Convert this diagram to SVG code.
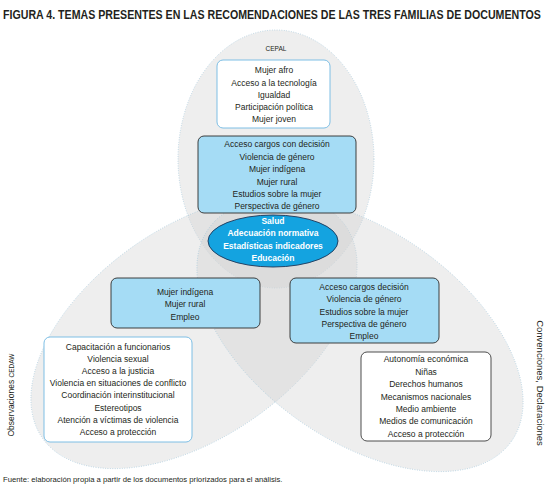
<svg xmlns="http://www.w3.org/2000/svg" width="549" height="491" viewBox="0 0 549 491">
<style>
text{font-family:"Liberation Sans",Arial,sans-serif;fill:#231f20;text-anchor:middle}
.t{font-size:8.5px}
.venn{fill:#d2d2d2;fill-opacity:0.38;stroke:#a3c6da;stroke-width:0.8;stroke-dasharray:0.8 1.6}
.lb{fill:#a5dcf5;stroke:#2b2b2b;stroke-width:0.9}
.wb{fill:#ffffff;stroke:#6fb8e2;stroke-width:0.9}
.wd{fill:#ffffff;stroke:#3a3a3a;stroke-width:0.9}
.w{fill:#ffffff;font-weight:bold;font-size:8.5px}
</style>
<rect width="549" height="491" fill="#ffffff"/>
<text transform="translate(3 19) scale(0.81 1)" x="0" y="0" style="text-anchor:start;font-size:12.5px;font-weight:bold" textLength="664" lengthAdjust="spacingAndGlyphs">FIGURA 4. TEMAS PRESENTES EN LAS RECOMENDACIONES DE LAS TRES FAMILIAS DE DOCUMENTOS</text>
<g id="sets">
<ellipse id="cepal-set" class="venn" cx="276" cy="159" rx="98" ry="129"/>
<ellipse id="cedaw-set" class="venn" cx="194" cy="332" rx="185" ry="105" transform="rotate(-35 194 332)"/>
<ellipse id="conv-set" class="venn" cx="360" cy="335" rx="185" ry="105" transform="rotate(35 360 335)"/>
</g>
<text x="276" y="51" style="font-size:6.5px">CEPAL</text>
<text transform="translate(14 395) rotate(-90)" style="font-size:8.5px">Observaciones <tspan style="font-size:6.5px">CEDAW</tspan></text>
<text transform="translate(537 383) rotate(90)" style="font-size:9.5px">Convenciones, Declaraciones</text>
<g id="cepal-only">
<rect class="wb" x="217" y="60" width="113" height="68" rx="6"/>
<text class="t" x="274" y="73">Mujer afro</text>
<text class="t" x="274" y="86">Acceso a la tecnología</text>
<text class="t" x="274" y="98">Igualdad</text>
<text class="t" x="274" y="110">Participación política</text>
<text class="t" x="274" y="122">Mujer joven</text>
</g>
<g id="cepal-conv">
<rect class="lb" x="198" y="136" width="158" height="77" rx="6"/>
<text class="t" x="277" y="147">Acceso cargos con decisión</text>
<text class="t" x="277" y="160">Violencia de género</text>
<text class="t" x="277" y="172">Mujer indígena</text>
<text class="t" x="277" y="185">Mujer rural</text>
<text class="t" x="277" y="197">Estudios sobre la mujer</text>
<text class="t" x="277" y="209">Perspectiva de género</text>
</g>
<g id="all-three">
<ellipse cx="273" cy="241" rx="65" ry="26" fill="#14a3e0" stroke="#1d3557" stroke-width="0.9"/>
<text class="w" x="273" y="224">Salud</text>
<text class="w" x="273" y="236">Adecuación normativa</text>
<text class="w" x="273" y="249">Estadísticas indicadores</text>
<text class="w" x="273" y="261">Educación</text>
</g>
<g id="cedaw-cepal">
<rect class="lb" x="111" y="278" width="149" height="50" rx="6"/>
<text class="t" x="185" y="295">Mujer indígena</text>
<text class="t" x="185" y="307">Mujer rural</text>
<text class="t" x="185" y="320">Empleo</text>
</g>
<g id="cedaw-conv">
<rect class="lb" x="290" y="278" width="149" height="65" rx="6"/>
<text class="t" x="364" y="290">Acceso cargos decisión</text>
<text class="t" x="364" y="302">Violencia de género</text>
<text class="t" x="364" y="315">Estudios sobre la mujer</text>
<text class="t" x="364" y="327">Perspectiva de género</text>
<text class="t" x="364" y="339">Empleo</text>
</g>
<g id="cedaw-only">
<rect class="wb" x="44" y="337" width="148" height="105" rx="6"/>
<text class="t" x="118" y="350">Capacitación a funcionarios</text>
<text class="t" x="118" y="362">Violencia sexual</text>
<text class="t" x="118" y="374">Acceso a la justicia</text>
<text class="t" x="118" y="386">Violencia en situaciones de conflicto</text>
<text class="t" x="118" y="398">Coordinación interinstitucional</text>
<text class="t" x="118" y="411">Estereotipos</text>
<text class="t" x="118" y="423">Atención a víctimas de violencia</text>
<text class="t" x="118" y="435">Acceso a protección</text>
</g>
<g id="conv-only">
<rect class="wd" x="361" y="352" width="130" height="89" rx="6"/>
<text class="t" x="426" y="362">Autonomía económica</text>
<text class="t" x="426" y="375">Niñas</text>
<text class="t" x="426" y="387">Derechos humanos</text>
<text class="t" x="426" y="400">Mecanismos nacionales</text>
<text class="t" x="426" y="412">Medio ambiente</text>
<text class="t" x="426" y="424">Medios de comunicación</text>
<text class="t" x="426" y="437">Acceso a protección</text>
</g>
<g id="connectors"></g>
<text x="3" y="482" style="text-anchor:start;font-size:7.7px">Fuente: elaboración propia a partir de los documentos priorizados para el análisis.</text>
</svg>
